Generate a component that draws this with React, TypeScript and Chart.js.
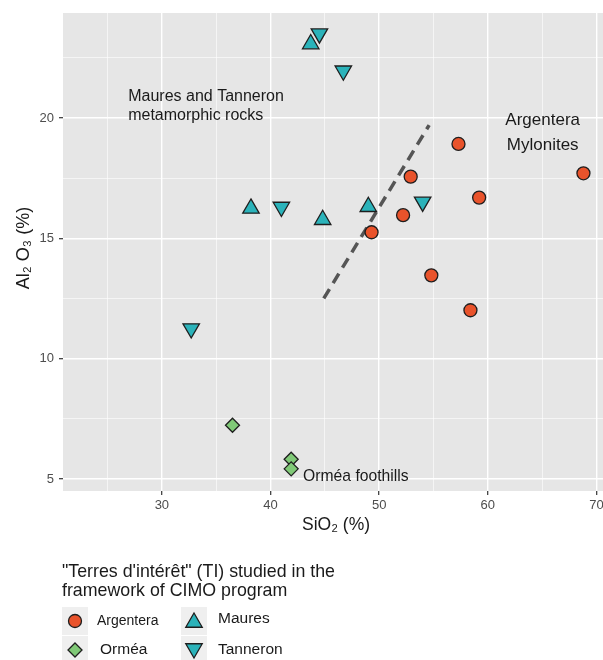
import React, { useEffect, useRef } from 'react';
import { Chart, registerables } from 'chart.js';

Chart.register(...registerables);

// ---- data ----
const argenteraSiO2 = [57.3, 68.8, 52.9, 59.2, 52.2, 49.3, 54.8, 58.4];
const argenteraAl2O3 = [18.92, 17.7, 17.56, 16.69, 15.96, 15.25, 13.46, 12.01];
const ormeaSiO2 = [36.5, 41.9, 41.9];
const ormeaAl2O3 = [7.23, 5.82, 5.42];
const mauresSiO2 = [43.7, 38.2, 44.8, 49.0];
const mauresAl2O3 = [23.07, 16.24, 15.77, 16.31];
const tanneronSiO2 = [44.5, 46.7, 41.0, 54.0, 32.7];
const tanneronAl2O3 = [23.5, 21.96, 16.3, 16.51, 11.25];
const boundarySiO2 = [44.9, 54.6];
const boundaryAl2O3 = [12.5, 19.7];

const xMajorTicks = [30, 40, 50, 60, 70];
const xMinorTicks = [25, 35, 45, 55, 65];
const yMajorTicks = [5, 10, 15, 20];
const yMinorTicks = [7.5, 12.5, 17.5, 22.5];
const xRange = [20.9, 70.6];
const yRange = [4.5, 24.36];

const xTitle = 'SiO\u2082 (%)';
const yTitle = 'Al\u2082 O\u2083 (%)';
const legendTitle = ['"Terres d\'intérêt" (TI) studied in the', 'framework of CIMO program'];
const groupNames = ['Argentera', 'Orméa', 'Maures', 'Tanneron'];

const annotationTexts = [
  { lines: ['Maures and Tanneron', 'metamorphic rocks'], x: 26.9, y: 20.87, align: 'left', size: 16, gap: 19 },
  { lines: ['Argentera', 'Mylonites'], x: 65.05, y: 19.92, align: 'center', size: 17, gap: 25 },
  { lines: ['Orméa foothills'], x: 43.0, y: 5.09, align: 'left', size: 15.7, gap: 0 },
];

// ---- styles ----
const FONT = '"Liberation Sans", Arial, Helvetica, sans-serif';
const C_ARG = '#E9532B';
const C_ORM = '#80C977';
const C_TEAL = '#2BB3BA';
const C_EDGE = '#1E1E1E';

const toPts = (xs: number[], ys: number[]) => xs.map((x, i) => ({ x, y: ys[i] }));

function drawMarker(ctx: CanvasRenderingContext2D, shape: string, x: number, y: number, fill: string) {
  ctx.save();
  ctx.beginPath();
  if (shape === 'circle') {
    ctx.arc(x, y, 6.5, 0, Math.PI * 2);
  } else if (shape === 'diamond') {
    const r = 7;
    ctx.moveTo(x, y - r); ctx.lineTo(x + r, y); ctx.lineTo(x, y + r); ctx.lineTo(x - r, y); ctx.closePath();
  } else {
    const r = 9.5;
    const s = shape === 'up' ? 1 : -1;
    for (let k = 0; k < 3; k++) {
      const a = (k * 2 * Math.PI) / 3;
      const px = x + Math.sin(a) * r;
      const py = y - s * Math.cos(a) * r;
      if (k === 0) ctx.moveTo(px, py); else ctx.lineTo(px, py);
    }
    ctx.closePath();
  }
  ctx.fillStyle = fill;
  ctx.fill();
  ctx.lineWidth = 1.3;
  ctx.strokeStyle = C_EDGE;
  ctx.stroke();
  ctx.restore();
}

const decorPlugin = {
  id: 'decor',
  beforeDraw(chart: any) {
    const { ctx, chartArea: a } = chart;
    ctx.save();
    ctx.fillStyle = '#E6E6E6';
    ctx.fillRect(a.left, a.top, a.right - a.left, a.bottom - a.top);
    ctx.restore();
  },
  afterDraw(chart: any) {
    const { ctx, chartArea: a, scales } = chart;
    const xs = scales.x;
    const ys = scales.y;
    ctx.save();
    // annotations
    ctx.fillStyle = '#1A1A1A';
    ctx.textBaseline = 'middle';
    annotationTexts.forEach((t) => {
      ctx.font = `${t.size}px ${FONT}`;
      ctx.textAlign = t.align as CanvasTextAlign;
      const px = xs.getPixelForValue(t.x);
      const py = ys.getPixelForValue(t.y);
      t.lines.forEach((line, i) => ctx.fillText(line, px, py + i * t.gap));
    });
    // axis titles
    ctx.fillStyle = '#1A1A1A';
    ctx.font = `17.5px ${FONT}`;
    ctx.textAlign = 'center';
    ctx.fillText(xTitle, (a.left + a.right) / 2 + 3, 525);
    ctx.save();
    ctx.font = `18px ${FONT}`;
    ctx.translate(24, (a.top + a.bottom) / 2 - 4);
    ctx.rotate(-Math.PI / 2);
    ctx.fillText(yTitle, 0, 0);
    ctx.restore();
    // legend
    ctx.textAlign = 'left';
    ctx.font = `17.8px ${FONT}`;
    ctx.fillStyle = '#1A1A1A';
    ctx.fillText(legendTitle[0], 62, 572);
    ctx.fillText(legendTitle[1], 62, 591);
    const keys = [
      { shape: 'circle', fill: C_ARG, kx: 75, ky: 621, tx: 97, size: 14 },
      { shape: 'diamond', fill: C_ORM, kx: 75, ky: 650, tx: 100, size: 15.5 },
      { shape: 'up', fill: C_TEAL, kx: 194, ky: 621, tx: 218, size: 15.5 },
      { shape: 'down', fill: C_TEAL, kx: 194, ky: 650, tx: 218, size: 15.5 },
    ];
    keys.forEach((k) => {
      ctx.fillStyle = '#EFEFEF';
      ctx.fillRect(k.kx - 13, k.ky - 14, 26, 28);
    });
    keys.forEach((k, i) => {
      drawMarker(ctx, k.shape, k.kx, k.shape === 'up' ? k.ky + 1.5 : k.shape === 'down' ? k.ky - 1.5 : k.ky, k.fill);
      ctx.fillStyle = '#1A1A1A';
      ctx.font = `${k.size}px ${FONT}`;
      ctx.fillText(groupNames[i], k.tx, k.ky - (i === 2 ? 2 : 0));
    });
    ctx.restore();
  },
};

const isIn = (arr: number[], v: number) => arr.some((m) => Math.abs(m - v) < 1e-6);

export default function App() {
  const ref = useRef<HTMLCanvasElement | null>(null);
  useEffect(() => {
    document.body.style.margin = '0';
    const canvas = ref.current;
    if (!canvas) return;
    const pointBase = { borderColor: C_EDGE, borderWidth: 1.3, showLine: false };
    const chart = new Chart(canvas, {
      type: 'scatter',
      data: {
        datasets: [
          {
            type: 'line',
            label: 'boundary',
            data: toPts(boundarySiO2, boundaryAl2O3),
            borderColor: '#555555',
            borderWidth: 3.5,
            borderDash: [11, 7],
            pointRadius: 0,
            showLine: true,
            fill: false,
            order: 10,
          } as any,
          { label: groupNames[0], data: toPts(argenteraSiO2, argenteraAl2O3), backgroundColor: C_ARG, pointStyle: 'circle', pointRadius: 6.5, order: 1, ...pointBase },
          { label: groupNames[1], data: toPts(ormeaSiO2, ormeaAl2O3), backgroundColor: C_ORM, pointStyle: 'rectRot', pointRadius: 7, order: 1, ...pointBase },
          { label: groupNames[2], data: toPts(mauresSiO2, mauresAl2O3), backgroundColor: C_TEAL, pointStyle: 'triangle', pointRadius: 9.5, order: 1, ...pointBase },
          { label: groupNames[3], data: toPts(tanneronSiO2, tanneronAl2O3), backgroundColor: C_TEAL, pointStyle: 'triangle', pointRotation: 180, pointRadius: 9.5, order: 1, ...pointBase },
        ],
      },
      options: {
        responsive: false,
        animation: false,
        layout: { autoPadding: false, padding: { top: 13, right: 0, bottom: 0, left: 0 } },
        plugins: { legend: { display: false }, tooltip: { enabled: false } },
        scales: {
          x: {
            type: 'linear',
            min: xRange[0],
            max: xRange[1],
            afterBuildTicks: (s: any) => {
              s.ticks = [...xMinorTicks, ...xMajorTicks].sort((p, q) => p - q).map((v) => ({ value: v }));
            },
            afterFit: (s: any) => { s.height = 169; s.paddingLeft = 0; s.paddingRight = 0; },
            border: { display: false },
            grid: {
              color: '#FFFFFF',
              lineWidth: (c: any) => (isIn(xMajorTicks, c.tick?.value) ? 1.4 : 0.6),
              drawTicks: true,
              tickLength: 4,
              tickWidth: 1.2,
              tickColor: (c: any) => (isIn(xMajorTicks, c.tick?.value) ? '#333333' : 'rgba(0,0,0,0)'),
            },
            ticks: {
              autoSkip: false,
              maxRotation: 0,
              padding: 3,
              color: '#4D4D4D',
              font: { family: FONT, size: 13 },
              callback: (v: any) => (isIn(xMajorTicks, Number(v)) ? String(v) : ''),
            },
          },
          y: {
            type: 'linear',
            min: yRange[0],
            max: yRange[1],
            afterBuildTicks: (s: any) => {
              s.ticks = [...yMinorTicks, ...yMajorTicks].sort((p, q) => p - q).map((v) => ({ value: v }));
            },
            afterFit: (s: any) => { s.width = 63; s.paddingTop = 0; s.paddingBottom = 0; },
            border: { display: false },
            grid: {
              color: '#FFFFFF',
              lineWidth: (c: any) => (isIn(yMajorTicks, c.tick?.value) ? 1.4 : 0.6),
              drawTicks: true,
              tickLength: 4,
              tickWidth: 1.2,
              tickColor: (c: any) => (isIn(yMajorTicks, c.tick?.value) ? '#333333' : 'rgba(0,0,0,0)'),
            },
            ticks: {
              autoSkip: false,
              padding: 5,
              color: '#4D4D4D',
              font: { family: FONT, size: 13 },
              callback: (v: any) => (isIn(yMajorTicks, Number(v)) ? String(v) : ''),
            },
          },
        },
      } as any,
      plugins: [decorPlugin],
    });
    return () => chart.destroy();
  }, []);
  return (
    <div style={{ position: 'absolute', left: 0, top: 0, width: 603, height: 660 }}>
      <canvas ref={ref} width={603} height={660} style={{ display: 'block', width: 603, height: 660 }} />
    </div>
  );
}
